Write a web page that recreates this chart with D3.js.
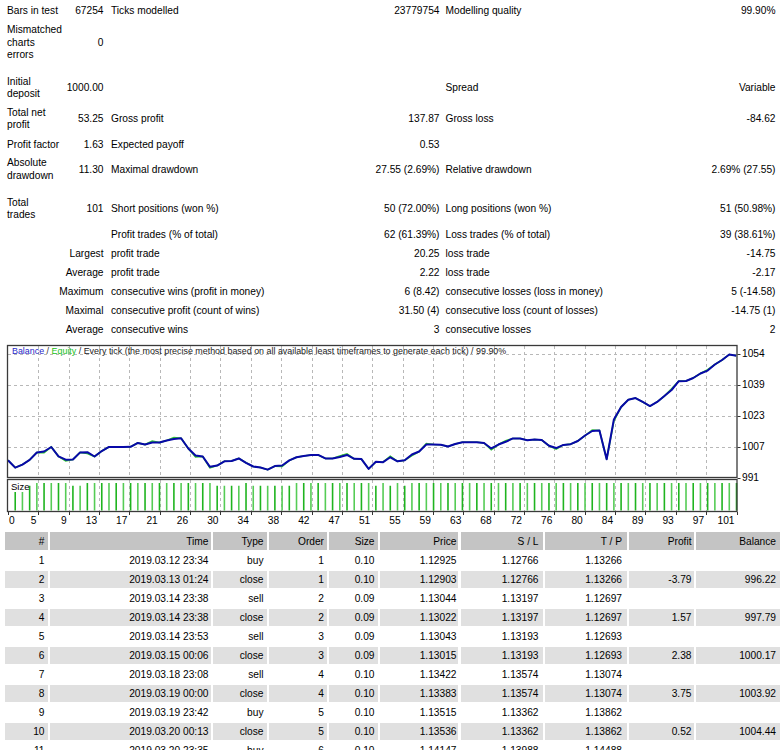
<!DOCTYPE html>
<html><head><meta charset="utf-8">
<script src="https://cdn.jsdelivr.net/npm/d3@7"></script>
<style>
html,body{margin:0;padding:0;background:#fff}
svg{display:block}
text{font-family:"Liberation Sans",Arial,sans-serif;font-size:10.2px;fill:#000}
</style>
</head><body><div id="chart"></div>
<script>
// ---------------- DATA ----------------
const statLabelA = [["Bars in test"],["Mismatched","charts","errors"],["Initial","deposit"],["Total net","profit"],["Profit factor"],["Absolute","drawdown"],["Total","trades"],[],[],[],[],[],[]];
const statValueA = ["67254","0","1000.00","53.25","1.63","11.30","101","","Largest","Average","Maximum","Maximal","Average"];
const statLabelB = ["Ticks modelled","","","Gross profit","Expected payoff","Maximal drawdown","Short positions (won %)","Profit trades (% of total)","profit trade","profit trade","consecutive wins (profit in money)","consecutive profit (count of wins)","consecutive wins"];
const statValueB = ["23779754","","","137.87","0.53","27.55 (2.69%)","50 (72.00%)","62 (61.39%)","20.25","2.22","6 (8.42)","31.50 (4)","3"];
const statLabelC = ["Modelling quality","","Spread","Gross loss","","Relative drawdown","Long positions (won %)","Loss trades (% of total)","loss trade","loss trade","consecutive losses (loss in money)","consecutive loss (count of losses)","consecutive losses"];
const statValueC = ["99.90%","","Variable","-84.62","","2.69% (27.55)","51 (50.98%)","39 (38.61%)","-14.75","-2.17","5 (-14.58)","-14.75 (1)","2"];

const titleParts = ["Balance"," / ","Equity"," / Every tick (the most precise method based on all available least timeframes to generate each tick) / 99.90%"];

const balance = [1000.00,996.22,997.79,1000.17,1003.92,1004.44,1006.75,1002.0,1000.3,1000.4,
1004.0,1004.1,1001.9,1004.7,1006.75,1006.75,1006.75,1006.85,1008.8,1008.0,
1009.0,1009.0,1010.1,1010.8,1011.2,1006.0,1002.4,1001.9,996.65,997.3,
999.45,999.6,1000.9,998.7,996.8,996.3,995.2,997.0,997.3,999.9,
1001.5,1002.2,1002.7,1002.7,1000.9,1000.9,1001.65,1002.7,1000.7,1000.6,
995.6,999.2,999.0,1001.5,999.45,1000.0,1002.9,1004.45,1008.0,1008.0,
1007.9,1007.0,1008.3,1009.2,1009.2,1009.2,1008.8,1006.0,1008.0,1009.4,
1011.1,1011.1,1010.2,1010.6,1010.3,1007.4,1006.2,1007.8,1008.2,1009.8,
1012.6,1014.9,1015.2,1000.5,1020.8,1027.1,1030.8,1031.7,1029.7,1027.6,
1029.7,1032.7,1035.8,1040.3,1040.4,1041.9,1044.2,1045.7,1048.8,1051.1,
1053.9,1053.25];

const equity = [1000.00,996.22,997.79,1000.17,1003.92,1003.9,1006.75,1002.0,999.7,1000.4,
1004.0,1003.4,1001.9,1004.7,1006.75,1006.75,1006.75,1006.85,1008.8,1008.0,
1009.7,1009.0,1010.1,1011.5,1011.2,1006.0,1001.7,1001.9,996.2,997.3,
999.45,999.6,1000.9,998.7,996.8,996.3,995.2,997.0,996.8,999.9,
1001.5,1002.2,1002.7,1002.7,1000.9,1000.9,1002.2,1003.2,1000.7,1000.6,
995.6,999.2,999.0,1002.0,999.45,1000.0,1002.4,1004.45,1008.5,1008.0,
1007.9,1007.0,1008.3,1009.2,1009.2,1009.2,1008.8,1005.4,1008.0,1009.9,
1011.1,1011.1,1010.2,1010.6,1010.3,1007.4,1005.7,1007.8,1008.2,1009.8,
1012.6,1015.4,1015.2,1000.5,1020.0,1027.1,1030.8,1031.7,1029.7,1027.6,
1029.7,1032.7,1036.4,1040.3,1040.4,1041.9,1044.2,1046.2,1048.8,1051.1,
1053.9,1053.25];

// lot size per trade 1..101
const sizes = [0.10,0.09,0.09,0.10,0.10,0.10,0.10,0.10,0.09,0.09,
0.10,0.10,0.10,0.10,0.10,0.10,0.10,0.10,0.10,0.10,
0.10,0.10,0.10,0.10,0.10,0.10,0.10,0.10,0.09,0.09,
0.09,0.09,0.10,0.09,0.09,0.09,0.09,0.09,0.09,0.10,
0.10,0.10,0.10,0.10,0.10,0.10,0.10,0.10,0.10,0.10,
0.09,0.10,0.09,0.10,0.09,0.10,0.10,0.10,0.10,0.10,
0.10,0.10,0.10,0.10,0.10,0.10,0.10,0.10,0.10,0.10,
0.10,0.10,0.10,0.10,0.10,0.10,0.10,0.10,0.10,0.10,
0.10,0.10,0.10,0.10,0.10,0.10,0.10,0.10,0.10,0.10,
0.10,0.10,0.10,0.10,0.10,0.10,0.10,0.10,0.10,0.10,
0.10];

const yTickValues = [991.2,1007.0,1022.8,1038.6,1054.4];
const xTickLabels = ["0","5","9","13","17","21","26","30","34","38","42","47","51","55","59","63","68","72","76","80","84","89","93","97","101"];

const tableHeaders = ["#","Time","Type","Order","Size","Price","S / L","T / P","Profit","Balance"];
const tradeNum = ["1","2","3","4","5","6","7","8","9","10","11"];
const tradeTime = ["2019.03.12 23:34","2019.03.13 01:24","2019.03.14 23:38","2019.03.14 23:38","2019.03.14 23:53","2019.03.15 00:06","2019.03.18 23:08","2019.03.19 00:00","2019.03.19 23:42","2019.03.20 00:13","2019.03.20 23:35"];
const tradeType = ["buy","close","sell","close","sell","close","sell","close","buy","close","buy"];
const tradeOrder = ["1","1","2","2","3","3","4","4","5","5","6"];
const tradeSize = ["0.10","0.10","0.09","0.09","0.09","0.09","0.10","0.10","0.10","0.10","0.10"];
const tradePrice = ["1.12925","1.12903","1.13044","1.13022","1.13043","1.13015","1.13422","1.13383","1.13515","1.13536","1.14147"];
const tradeSL = ["1.12766","1.12766","1.13197","1.13197","1.13193","1.13193","1.13574","1.13574","1.13362","1.13362","1.13988"];
const tradeTP = ["1.13266","1.13266","1.12697","1.12697","1.12693","1.12693","1.13074","1.13074","1.13862","1.13862","1.14488"];
const tradeProfit = ["","-3.79","","1.57","","2.38","","3.75","","0.52",""];
const tradeBalance = ["","996.22","","997.79","","1000.17","","1003.92","","1004.44",""];

// ---------------- LAYOUT ----------------
const W = 780, H = 750;
const svg = d3.select("#chart").append("svg").attr("width", W).attr("height", H);
svg.append("rect").attr("width", W).attr("height", H).attr("fill", "#fff");

// statistics block
const rowY = [10,42,87.3,118.7,144,169,208.3,234.3,253.3,272.3,291.3,310.3,329.3];
const LH = 12.4;
const st = svg.append("g");
statLabelA.forEach((lines, i) => {
  const n = lines.length;
  lines.forEach((t, j) => {
    st.append("text").attr("x", 7).attr("y", rowY[i] + (j - (n - 1) / 2) * LH).attr("dy", "0.35em").text(t);
  });
});
function col(arr, x, anchor) {
  arr.forEach((t, i) => {
    if (!t) return;
    st.append("text").attr("x", x).attr("y", rowY[i]).attr("dy", "0.35em").attr("text-anchor", anchor).text(t);
  });
}
col(statValueA, 103.5, "end");
col(statLabelB, 111, "start");
col(statValueB, 439.5, "end");
col(statLabelC, 445.5, "start");
col(statValueC, 775.5, "end");

// chart
const cx0 = 8, cx1 = 736.5, cy0 = 346, cy1 = 477;
const sy0 = 480, sy1 = 511;
const x = d3.scaleLinear().domain([0, balance.length - 1]).range([cx0, cx1]);
const y = d3.scaleLinear().domain([yTickValues[0], yTickValues[yTickValues.length - 1]]).range([477.5, 353.5]);
const xg = d3.scalePoint().domain(xTickLabels).range([cx0, cx1]);
const sizeY = d3.scaleLinear().domain([0, 0.10]).range([510.5, 483]);

const ch = svg.append("g");
ch.append("defs").append("clipPath").attr("id", "clipMain")
  .append("rect").attr("x", cx0).attr("y", cy0).attr("width", cx1 - cx0).attr("height", cy1 - cy0);

// horizontal grid
ch.selectAll("line.hg").data(yTickValues.slice(1)).join("line")
  .attr("x1", cx0).attr("x2", cx1).attr("y1", d => Math.round(y(d)) + 0.5).attr("y2", d => Math.round(y(d)) + 0.5)
  .attr("stroke", "#b8b8b8").attr("stroke-dasharray", "3,3");
// vertical grid (main + size panel)
const inner = xTickLabels.slice(1, -1);
[[cy0, cy1], [sy0, sy1]].forEach(([a, b]) => {
  ch.append("g").selectAll("line").data(inner).join("line")
    .attr("x1", d => Math.round(xg(d)) + 0.5).attr("x2", d => Math.round(xg(d)) + 0.5)
    .attr("y1", a).attr("y2", b)
    .attr("stroke", "#b8b8b8").attr("stroke-dasharray", "3,3");
});

// title
const title = ch.append("text").attr("x", 12).attr("y", 351).attr("dy", "0.35em").style("font-size", "10px");
const titleColors = ["#2828c8", "#333", "#18c018", "#222"];
titleParts.forEach((t, i) => title.append("tspan").attr("fill", titleColors[i]).style("fill", titleColors[i]).text(t));
const tl = title.node().getComputedTextLength();
title.style("font-size", (10 * 495 / tl) + "px");

// lines
const line = d3.line().x((d, i) => x(i)).y(d => y(d));
const lg = ch.append("g").attr("clip-path", "url(#clipMain)");
lg.append("path").datum(equity).attr("d", line).attr("fill", "none").attr("stroke", "#30c830").attr("stroke-width", 1.6);
lg.append("path").datum(balance).attr("d", line).attr("fill", "none").attr("stroke", "#0808a8").attr("stroke-width", 2).attr("stroke-linejoin", "round");

// size bars
ch.append("g").selectAll("line").data(sizes).join("line")
  .attr("x1", (d, i) => x(i + 1)).attr("x2", (d, i) => x(i + 1))
  .attr("y1", sizeY(0)).attr("y2", d => sizeY(d))
  .attr("stroke", (d, i) => i % 2 ? "#55cc55" : "#1fb41f").attr("stroke-width", 1.6);

// size label
ch.append("rect").attr("x", 9).attr("y", 481).attr("width", 19).attr("height", 11).attr("fill", "#fff");
ch.append("text").attr("x", 11).attr("y", 486.8).attr("dy", "0.35em").style("font-size", "9.5px").text("Size");

// borders
ch.append("rect").attr("x", cx0 - 0.5).attr("y", cy0 - 0.5).attr("width", cx1 - cx0 + 1).attr("height", cy1 - cy0 + 1)
  .attr("fill", "none").attr("stroke", "#3a3a3a").attr("stroke-width", 1.3);
ch.append("rect").attr("x", cx0 - 0.5).attr("y", sy0 - 0.5).attr("width", cx1 - cx0 + 1).attr("height", sy1 - sy0 + 1)
  .attr("fill", "none").attr("stroke", "#3a3a3a").attr("stroke-width", 1.3);

// y axis labels (right)
ch.selectAll("text.yl").data(yTickValues).join("text").attr("class", "yl")
  .attr("x", 742).attr("y", d => y(d)).attr("dy", "0.35em").text(d => d3.format(".0f")(d));
ch.selectAll("line.yt").data(yTickValues).join("line").attr("class", "yt")
  .attr("x1", cx1 + 1).attr("x2", cx1 + 4).attr("y1", d => Math.round(y(d)) + 0.5).attr("y2", d => Math.round(y(d)) + 0.5)
  .attr("stroke", "#333");

// x labels
ch.selectAll("text.xl").data(xTickLabels).join("text").attr("class", "xl")
  .attr("x", (d, i) => i === 0 ? xg(d) + 1 : xg(d) - 2)
  .attr("text-anchor", (d, i) => i === 0 ? "start" : "end")
  .attr("y", 520).attr("dy", "0.35em").text(d => d);
ch.selectAll("line.xt").data(xTickLabels).join("line").attr("class", "xt")
  .attr("x1", d => Math.round(xg(d)) + 0.5).attr("x2", d => Math.round(xg(d)) + 0.5)
  .attr("y1", sy1 + 1).attr("y2", sy1 + 4).attr("stroke", "#333");

// ---------------- TABLE ----------------
const colBounds = [[5,48],[50,211],[213,267],[269,327],[329,378],[380,458],[461,543],[545,627],[629,694],[696,780]];
const textRight = [44.5,208.5,263.5,324,374.5,456.5,538.5,622,691.5,776];
const columns = [tradeNum, tradeTime, tradeType, tradeOrder, tradeSize, tradePrice, tradeSL, tradeTP, tradeProfit, tradeBalance];
const tb = svg.append("g");
const headTop = 532, headH = 18, rowPitch = 19, rowH = 17;
colBounds.forEach((b, j) => {
  tb.append("rect").attr("x", b[0]).attr("y", headTop).attr("width", b[1] - b[0]).attr("height", headH).attr("fill", "#c4c4c4");
  tb.append("text").attr("x", textRight[j]).attr("y", headTop + headH / 2).attr("dy", "0.35em").attr("text-anchor", "end").text(tableHeaders[j]);
});
tradeNum.forEach((_, r) => {
  const top = headTop + headH + 2 + r * rowPitch;
  if (r % 2 === 1) {
    colBounds.forEach(b => tb.append("rect").attr("x", b[0]).attr("y", top).attr("width", b[1] - b[0]).attr("height", rowH).attr("fill", "#e0e0e0"));
  }
  columns.forEach((c, j) => {
    if (!c[r]) return;
    tb.append("text").attr("x", textRight[j]).attr("y", top + rowH / 2).attr("dy", "0.35em").attr("text-anchor", "end").text(c[r]);
  });
});
</script>
</body></html>
